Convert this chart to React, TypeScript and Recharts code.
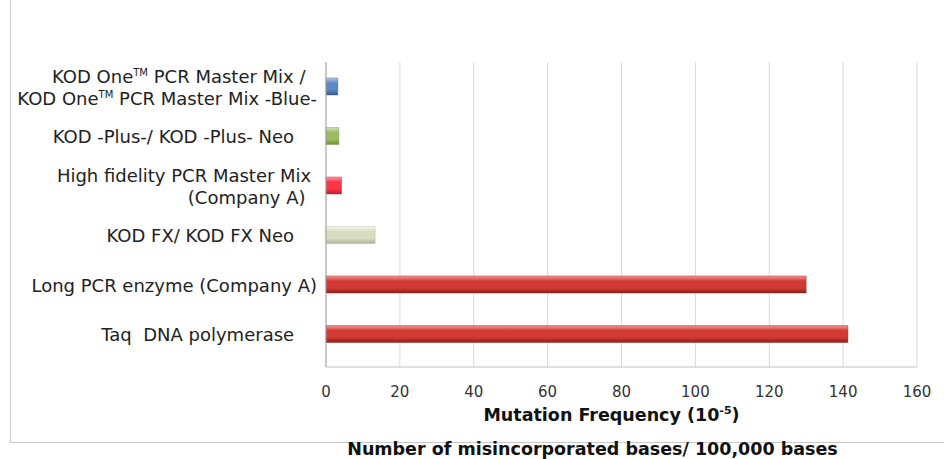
import { Bar, BarChart, CartesianGrid, Cell, XAxis, YAxis } from 'recharts';

const CATEGORIES = ['kodOne', 'kodPlus', 'hifiA', 'kodFx', 'longA', 'taq'];

const LABELS: string[][] = [
  ['KOD One™ PCR Master Mix /  ', 'KOD One™ PCR Master Mix -Blue-'],
  ['KOD -Plus-/ KOD -Plus- Neo    '],
  ['High fidelity PCR Master Mix ', '(Company A)  '],
  ['KOD FX/ KOD FX Neo    '],
  ['Long PCR enzyme (Company A)'],
  ['Taq  DNA polymerase    '],
];

const VALUES = [3.2, 3.5, 4.2, 13.3, 130, 141.3];

const X_TICKS = [0, 20, 40, 60, 80, 100, 120, 140, 160];

// [highlight, body, shade] for each bar's cylinder look
const COLORS = [
  ['#b7cbe8', '#5b87c2', '#37598a'],
  ['#d3e2b6', '#9dbb63', '#718c43'],
  ['#ff9aa4', '#ff3346', '#b81e2c'],
  ['#f7f8ee', '#d8dcc0', '#b0b498'],
  ['#f09a94', '#d23a33', '#8e1d19'],
  ['#f09a94', '#d23a33', '#8e1d19'],
];

const data = CATEGORIES.map((key, i) => ({ key, value: VALUES[i] }));

const FONT = '"DejaVu Sans", Verdana, sans-serif';

// splits a label line so "™" can be drawn as a small raised "TM"
function renderLine(line: string) {
  const parts = line.split('™');
  const out: any[] = [];
  parts.forEach((p, i) => {
    if (i > 0) {
      out.push(
        <tspan key={`tm${i}`} fontSize={10} dy={-7}>
          TM
        </tspan>
      );
      out.push(
        <tspan key={`p${i}`} dy={7}>
          {p}
        </tspan>
      );
    } else {
      out.push(p);
    }
  });
  return out;
}

function CategoryTick(props: any) {
  const { x, y, payload } = props;
  const idx = CATEGORIES.indexOf(payload.value);
  const lines = LABELS[idx] ?? [];
  const lineH = 22;
  const startY = y - ((lines.length - 1) * lineH) / 2;
  return (
    <text
      x={x + 3}
      y={startY}
      textAnchor="end"
      fontFamily={FONT}
      fontSize={18}
      fill="#222"
      style={{ whiteSpace: 'pre' }}
    >
      {lines.map((line, i) => (
        <tspan key={i} x={x + 3} dy={i === 0 ? 7 : lineH}>
          {renderLine(line)}
        </tspan>
      ))}
    </text>
  );
}

function AxisTitles(props: any) {
  const { viewBox } = props;
  const cx = viewBox.x + viewBox.width / 2;
  return (
    <g fontFamily={FONT} fontWeight="bold" fill="#111">
      <text x={cx - 10} y={viewBox.y + 54} textAnchor="middle" fontSize={17.5}>
        Mutation Frequency (10
        <tspan fontSize={11} dy={-7}>-5</tspan>
        <tspan dy={7}>)</tspan>
      </text>
      <text x={cx - 29} y={viewBox.y + 88} textAnchor="middle" fontSize={17.5}>
        Number of misincorporated bases/ 100,000 bases
      </text>
    </g>
  );
}

export default function App() {
  return (
    <div style={{ position: 'absolute', left: 0, top: 0, width: 944, height: 459, background: '#fff' }}>
      <div
        style={{
          position: 'absolute',
          left: 10,
          top: 0,
          width: 934,
          height: 442,
          borderLeft: '1px solid #c8c8c8',
          borderBottom: '1px solid #c8c8c8',
        }}
      />
      <BarChart
        width={944}
        height={459}
        data={data}
        layout="vertical"
        margin={{ top: 62, right: 27, bottom: 62, left: 0 }}
        barSize={17}
        style={{ position: 'absolute', left: 0, top: 0 }}
      >
        <defs>
          {COLORS.map((c, i) => (
            <linearGradient key={i} id={`bar-${i}`} x1="0" y1="0" x2="0" y2="1">
              <stop offset="0%" stopColor={c[0]} />
              <stop offset="30%" stopColor={c[1]} />
              <stop offset="70%" stopColor={c[1]} />
              <stop offset="100%" stopColor={c[2]} />
            </linearGradient>
          ))}
        </defs>
        <CartesianGrid vertical horizontal={false} stroke="#d9d9d9" />
        <XAxis
          type="number"
          domain={[0, 160]}
          ticks={X_TICKS}
          tickLine={false}
          axisLine={{ stroke: '#bfbfbf' }}
          tick={{ fontFamily: FONT, fontSize: 15, fill: '#333' }}
          tickMargin={13}
          label={<AxisTitles />}
        />
        <YAxis
          type="category"
          dataKey="key"
          width={326}
          tickLine={false}
          axisLine={{ stroke: '#a6a6a6' }}
          tick={<CategoryTick />}
          tickMargin={6}
          padding={{ top: 0, bottom: 8 }}
        />
        <Bar dataKey="value" isAnimationActive={false}>
          {data.map((d, i) => (
            <Cell key={d.key} fill={`url(#bar-${i})`} stroke={COLORS[i][2]} strokeOpacity={0.4} />
          ))}
        </Bar>
      </BarChart>
    </div>
  );
}
